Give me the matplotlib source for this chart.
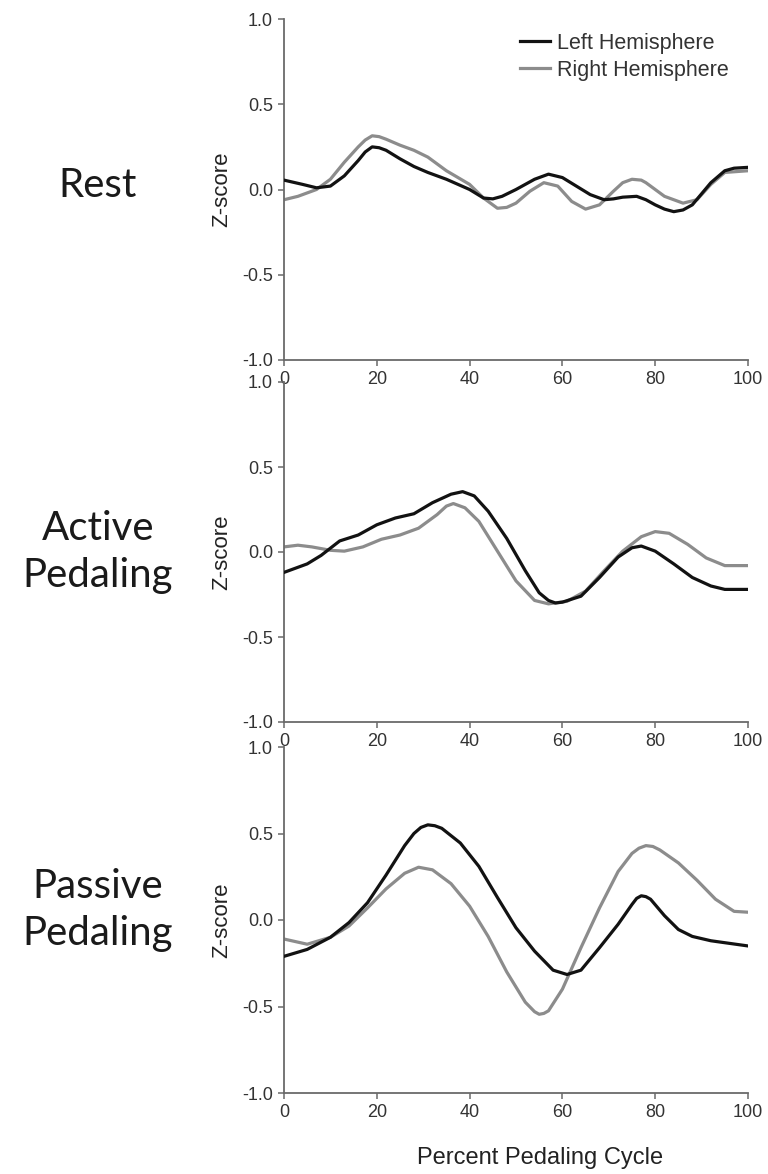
import matplotlib
matplotlib.use("Agg")
import matplotlib.pyplot as plt

# Percent of pedaling cycle and hemisphere z-scores per condition
conditions = ["Rest", "Active\nPedaling", "Passive\nPedaling"]

rest_x_left = [0, 4, 7, 10, 13, 16, 17.5, 19, 20.5, 22, 25, 28, 31, 35, 40,
               43, 45, 47, 50, 54, 57, 60, 63, 66, 69, 71, 73, 76, 78, 80,
               82, 84, 86, 88, 92, 95, 97, 100]
rest_left = [0.055, 0.03, 0.01, 0.02, 0.08, 0.17, 0.22, 0.25, 0.245, 0.23,
             0.18, 0.135, 0.10, 0.06, 0.0, -0.05, -0.055, -0.04, 0.0, 0.06,
             0.09, 0.07, 0.02, -0.03, -0.06, -0.055, -0.045, -0.04, -0.06,
             -0.09, -0.115, -0.13, -0.12, -0.09, 0.04, 0.11, 0.125, 0.13]
rest_x_right = [0, 3, 7, 10, 13, 16, 17.5, 19, 20.5, 22, 25, 28, 31, 35, 40,
                43, 46, 48, 50, 53, 56, 59, 62, 65, 68, 71, 73, 75, 77, 78,
                82, 86, 89, 92, 95, 100]
rest_right = [-0.06, -0.04, 0.0, 0.06, 0.16, 0.25, 0.29, 0.315, 0.31, 0.295,
              0.26, 0.23, 0.19, 0.11, 0.03, -0.05, -0.11, -0.105, -0.08,
              -0.01, 0.04, 0.02, -0.07, -0.115, -0.09, -0.01, 0.04, 0.06,
              0.055, 0.04, -0.04, -0.08, -0.06, 0.03, 0.10, 0.11]

active_x_left = [0, 5, 8, 12, 16, 20, 24, 28, 32, 36, 38.5, 41, 44, 48, 52,
                 55, 57, 58.5, 60, 64, 68, 72, 75, 77, 80, 84, 88, 92, 95,
                 100]
active_left = [-0.12, -0.07, -0.02, 0.065, 0.10, 0.16, 0.20, 0.225, 0.29,
               0.34, 0.355, 0.33, 0.24, 0.08, -0.11, -0.24, -0.285, -0.30,
               -0.295, -0.26, -0.15, -0.03, 0.025, 0.035, 0.005, -0.07,
               -0.15, -0.20, -0.22, -0.22]
active_x_right = [0, 3, 6, 10, 13, 17, 21, 25, 29, 33, 35, 36.5, 39, 42, 46,
                  50, 54, 57, 61, 65, 69, 73, 77, 80, 83, 87, 91, 95, 100]
active_right = [0.03, 0.04, 0.03, 0.01, 0.005, 0.03, 0.075, 0.10, 0.14,
                0.22, 0.27, 0.285, 0.26, 0.18, 0.005, -0.17, -0.285, -0.305,
                -0.29, -0.23, -0.11, 0.005, 0.09, 0.12, 0.11, 0.045, -0.035,
                -0.08, -0.08]

passive_x_left = [0, 5, 10, 14, 18, 22, 26, 28, 29.5, 31, 32.5, 34, 38, 42,
                  46, 50, 54, 58, 61, 64, 68, 72, 75, 76, 77, 78, 79, 82, 85,
                  88, 92, 96, 100]
passive_left = [-0.21, -0.17, -0.10, -0.015, 0.10, 0.26, 0.43, 0.50, 0.535,
                0.55, 0.545, 0.53, 0.445, 0.31, 0.13, -0.045, -0.18, -0.29,
                -0.315, -0.29, -0.16, -0.025, 0.09, 0.125, 0.14, 0.135, 0.12,
                0.025, -0.055, -0.095, -0.12, -0.135, -0.15]
passive_x_right = [0, 5, 10, 14, 18, 22, 26, 29, 32, 36, 40, 44, 48, 52, 54,
                   55, 56, 57, 60, 64, 68, 72, 75, 76.5, 78, 79.5, 81, 85, 89,
                   93, 97, 100]
passive_right = [-0.11, -0.14, -0.10, -0.035, 0.07, 0.18, 0.27, 0.305, 0.29,
                 0.21, 0.08, -0.095, -0.30, -0.475, -0.53, -0.545, -0.54,
                 -0.525, -0.40, -0.16, 0.07, 0.28, 0.385, 0.415, 0.43, 0.425,
                 0.405, 0.33, 0.23, 0.12, 0.05, 0.045]

series = [
    (rest_x_left, rest_left, rest_x_right, rest_right),
    (active_x_left, active_left, active_x_right, active_right),
    (passive_x_left, passive_left, passive_x_right, passive_right),
]

x_ticks = [0, 20, 40, 60, 80, 100]
y_ticks = [-1.0, -0.5, 0.0, 0.5, 1.0]
y_tick_labels = ["-1.0", "-0.5", "0.0", "0.5", "1.0"]

W, H = 768, 1174
fig = plt.figure(figsize=(W / 100, H / 100), dpi=100)
plt.rcParams["font.family"] = ["Liberation Sans", "DejaVu Sans"]

# panel pixel extents (top, bottom)
panels_px = [(19, 360), (382, 722), (747, 1093)]
left_px, right_px = 284, 748

spine_col = "#6a6a6a"
text_col = "#333333"

axes = []
for i, ((top, bot), cond, (xl, yl, xr, yr)) in enumerate(zip(panels_px, conditions, series)):
    ax = fig.add_axes([left_px / W, 1 - bot / H, (right_px - left_px) / W, (bot - top) / H])
    ax.plot(xl, yl, color="#121212", lw=2.3, label="Left Hemisphere", zorder=3,
            solid_joinstyle="round")
    ax.plot(xr, yr, color="#8c8c8c", lw=2.3, label="Right Hemisphere", zorder=2,
            solid_joinstyle="round")
    ax.set_xlim(0, 100)
    ax.set_ylim(-1.0, 1.0)
    ax.set_xticks(x_ticks)
    ax.set_yticks(y_ticks)
    ax.set_yticklabels(y_tick_labels)
    for s in ("top", "right"):
        ax.spines[s].set_visible(False)
    for s in ("left", "bottom"):
        ax.spines[s].set_color(spine_col)
        ax.spines[s].set_linewidth(1.3)
    ax.tick_params(direction="out", length=4, width=1.1, color=spine_col,
                   labelsize=13, labelcolor=text_col, pad=4)
    ax.set_ylabel("Z-score", fontsize=16, color="#222222")
    ax.yaxis.set_label_coords(-0.112, 0.5)
    ax.patch.set_alpha(0)
    # condition label on the left
    yc = {0: 185, 1: 552, 2: 910}[i]
    fig.text(98 / W, 1 - yc / H, cond, ha="center", va="center",
             fontsize=29, family="Lato", color="#1a1a1a",
             linespacing=1.35, multialignment="center")
    axes.append(ax)

axes[0].legend(loc="upper left", bbox_to_anchor=(520 / W, 1 - 33 / H),
               bbox_transform=fig.transFigure, frameon=False, fontsize=15.5,
               handlelength=1.4, handletextpad=0.3, labelspacing=0.28,
               borderpad=0, borderaxespad=0, labelcolor="#333333")

fig.text(540 / W, 1 - 1158 / H, "Percent Pedaling Cycle", ha="center",
         va="center", fontsize=17, color="#222222")

fig.savefig("out.png", dpi=100)
